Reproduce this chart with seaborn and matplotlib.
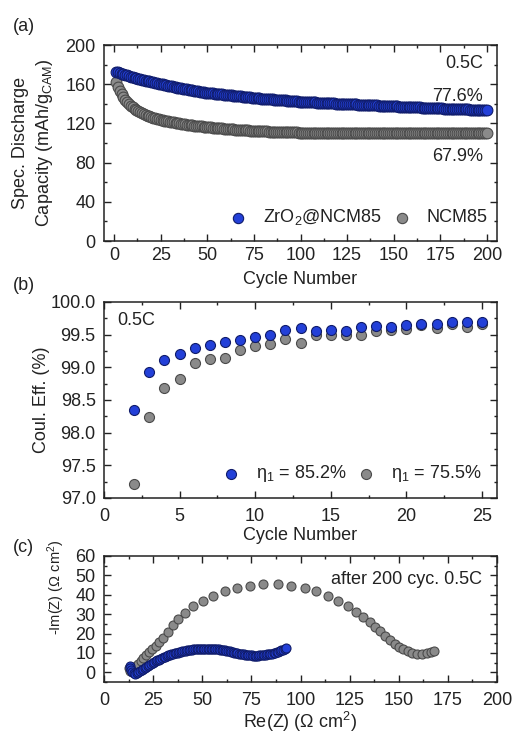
import matplotlib
matplotlib.use("Agg")
import matplotlib.pyplot as plt
import seaborn as sns
from matplotlib.ticker import MultipleLocator, FormatStrFormatter

# ---------------------------------------------------------------- data
coated_label = "ZrO$_2$@NCM85"
bare_label = "NCM85"

# (a) specific discharge capacity per cycle (mAh/g_CAM), cycles 1..200
capacity_coated = [
    172.8, 172.1, 171.4, 170.8, 170.1, 169.5, 168.9, 168.2, 167.6, 167.0,
    166.5, 166.0, 165.6, 165.1, 164.6, 164.1, 163.7, 163.2, 162.8, 162.3,
    161.9, 161.5, 161.0, 160.6, 160.2, 159.8, 159.4, 159.0, 158.6, 158.2,
    157.8, 157.4, 157.0, 156.6, 156.2, 155.8, 155.5, 155.1, 154.7, 154.4,
    154.0, 153.6, 153.3, 152.9, 152.6, 152.2, 152.0, 151.7, 151.5, 151.3,
    151.0, 150.8, 150.6, 150.4, 150.1, 149.9, 149.7, 149.5, 149.3, 149.1,
    148.9, 148.7, 148.5, 148.3, 148.1, 147.9, 147.7, 147.5, 147.3, 147.1,
    146.9, 146.7, 146.5, 146.3, 146.1, 145.9, 145.8, 145.6, 145.4, 145.3,
    145.1, 144.9, 144.8, 144.6, 144.4, 144.3, 144.1, 144.0, 143.8, 143.7,
    143.5, 143.4, 143.2, 143.1, 142.9, 142.8, 142.6, 142.5, 142.3, 142.2,
    142.1, 142.0, 141.9, 141.8, 141.7, 141.6, 141.5, 141.4, 141.3, 141.2,
    141.1, 141.0, 140.9, 140.8, 140.7, 140.6, 140.5, 140.4, 140.3, 140.2,
    140.1, 140.0, 139.9, 139.8, 139.7, 139.6, 139.5, 139.4, 139.4, 139.3,
    139.2, 139.1, 139.0, 138.9, 138.8, 138.7, 138.6, 138.5, 138.4, 138.3,
    138.3, 138.2, 138.1, 138.0, 137.9, 137.8, 137.7, 137.7, 137.6, 137.5,
    137.4, 137.3, 137.2, 137.1, 137.1, 137.0, 136.9, 136.8, 136.7, 136.6,
    136.5, 136.5, 136.4, 136.3, 136.2, 136.1, 136.0, 136.0, 135.9, 135.8,
    135.7, 135.6, 135.5, 135.5, 135.4, 135.3, 135.2, 135.1, 135.0, 135.0,
    134.9, 134.8, 134.7, 134.6, 134.6, 134.5, 134.4, 134.3, 134.2, 134.2,
    134.1, 134.0, 133.9, 133.8, 133.8, 133.7, 133.6, 133.5, 133.4, 133.3,
]
capacity_bare = [
    162.5, 157.0, 153.0, 149.6, 146.6, 144.0, 141.8, 139.8, 138.0, 136.5,
    135.1, 133.8, 132.6, 131.5, 130.5, 129.6, 128.8, 128.0, 127.3, 126.6,
    126.0, 125.4, 124.8, 124.3, 123.8, 123.3, 122.9, 122.5, 122.1, 121.7,
    121.3, 121.0, 120.6, 120.3, 120.0, 119.7, 119.4, 119.1, 118.8, 118.6,
    118.3, 118.1, 117.8, 117.6, 117.3, 117.1, 116.9, 116.7, 116.5, 116.3,
    116.1, 115.9, 115.7, 115.5, 115.3, 115.1, 115.0, 114.8, 114.6, 114.5,
    114.3, 114.2, 114.0, 113.9, 113.7, 113.6, 113.5, 113.3, 113.2, 113.1,
    113.0, 112.8, 112.7, 112.6, 112.5, 112.4, 112.3, 112.2, 112.1, 112.0,
    111.9, 111.8, 111.7, 111.7, 111.6, 111.5, 111.4, 111.4, 111.3, 111.2,
    111.2, 111.1, 111.0, 111.0, 110.9, 110.9, 110.8, 110.8, 110.7, 110.7,
    110.6, 110.7, 110.6, 110.5, 110.6, 110.5, 110.5, 110.4, 110.5, 110.4,
    110.4, 110.3, 110.4, 110.3, 110.3, 110.4, 110.2, 110.3, 110.2, 110.3,
    110.2, 110.2, 110.1, 110.2, 110.1, 110.2, 110.1, 110.1, 110.0, 110.1,
    110.0, 110.1, 110.0, 110.0, 110.1, 109.9, 110.0, 109.9, 110.0, 109.9,
    110.0, 109.9, 109.9, 110.0, 109.9, 109.8, 109.9, 109.9, 109.8, 109.9,
    109.8, 109.9, 109.8, 109.8, 109.9, 109.8, 109.8, 109.7, 109.8, 109.8,
    109.8, 109.7, 109.8, 109.8, 109.7, 109.8, 109.7, 109.8, 109.7, 109.8,
    109.8, 109.7, 109.8, 109.8, 109.9, 109.8, 109.8, 109.9, 109.8, 109.9,
    109.9, 109.8, 109.9, 110.0, 109.9, 110.0, 109.9, 110.0, 110.0, 110.1,
    110.0, 110.1, 110.0, 110.1, 110.1, 110.0, 110.2, 110.1, 110.2, 110.3,
]
capacity_retention = ["77.6%", "67.9%"]

# (b) coulombic efficiency (%), cycles 2..25
ce_cycles = list(range(2, 26))
ce_coated = [98.35, 98.93, 99.11, 99.21, 99.29, 99.34, 99.39, 99.42, 99.46,
             99.49, 99.57, 99.60, 99.56, 99.57, 99.56, 99.61, 99.63, 99.62,
             99.65, 99.66, 99.66, 99.69, 99.69, 99.69]
ce_bare = [97.22, 98.24, 98.68, 98.82, 99.06, 99.13, 99.15, 99.27, 99.33,
           99.36, 99.44, 99.38, 99.50, 99.50, 99.49, 99.49, 99.55, 99.57,
           99.58, 99.65, 99.60, 99.67, 99.62, 99.66]
first_cycle_eff = ["85.2%", "75.5%"]

# (c) Nyquist plot after 200 cycles, Re(Z) / -Im(Z) in Ohm cm^2
eis_re_coated = [
    13.0, 13.3, 13.8, 14.4, 15.1, 15.9, 16.7, 17.5, 18.3, 19.1,
    19.9, 20.7, 21.5, 22.3, 23.1, 23.9, 24.7, 25.5, 26.3, 27.1,
    27.9, 28.7, 29.5, 30.3, 31.1, 31.9, 32.7, 33.5, 34.3, 35.1,
    35.9, 36.7, 37.5, 38.3, 39.1, 39.9, 40.7, 41.5, 42.3, 43.1,
    43.9, 44.7, 45.5, 46.3, 47.1, 47.9, 48.7, 49.5, 50.3, 51.1,
    51.9, 52.7, 53.5, 54.3, 55.1, 55.9, 56.7, 57.5, 58.3, 59.1,
    59.9, 60.7, 61.5, 62.3, 63.1, 63.9, 64.7, 65.5, 66.3, 67.1,
    67.9, 68.7, 69.5, 70.3, 71.1, 71.9, 72.7, 73.5, 74.3, 75.1,
    75.9, 76.7, 77.5, 78.3, 79.1, 79.9, 80.7, 81.5, 82.3, 83.1,
    83.9, 84.7, 85.5, 86.3, 87.1, 87.9, 88.7, 89.5, 90.3, 91.1,
    91.9, 92.7,
]
eis_im_coated = [
    3.5, 2.2, 1.0, 0.0, -0.6, -0.7, -0.4, 0.1, 0.6, 1.2,
    1.7, 2.3, 2.8, 3.4, 3.9, 4.4, 4.9, 5.3, 5.8, 6.2,
    6.6, 7.0, 7.3, 7.7, 8.0, 8.4, 8.7, 9.0, 9.3, 9.5,
    9.8, 10.0, 10.2, 10.4, 10.6, 10.8, 11.0, 11.1, 11.3, 11.4,
    11.5, 11.7, 11.8, 11.9, 11.9, 12.0, 12.1, 12.1, 12.2, 12.2,
    12.2, 12.2, 12.2, 12.1, 12.1, 12.0, 12.0, 11.9, 11.8, 11.7,
    11.6, 11.4, 11.3, 11.1, 11.0, 10.8, 10.6, 10.4, 10.2, 10.0,
    9.8, 9.6, 9.5, 9.3, 9.2, 9.0, 8.9, 8.8, 8.7, 8.7,
    8.6, 8.6, 8.6, 8.6, 8.7, 8.7, 8.8, 8.9, 9.0, 9.2,
    9.3, 9.5, 9.7, 9.9, 10.2, 10.4, 10.7, 11.0, 11.3, 11.7,
    12.0, 12.4,
]
eis_re_bare = [12.5, 13.2, 14.0, 15.0, 16.1, 17.3, 18.6, 20.0, 21.5, 23.0,
               24.6, 26.3, 28.1, 30.0, 32.5, 35.1, 37.8, 41.1, 45.3, 50.6,
               55.6, 61.5, 67.5, 74.2, 81.0, 88.4, 95.3, 102.1, 108.0, 113.9,
               119.3, 124.1, 128.3, 132.0, 135.2, 138.0, 140.6, 143.2, 145.6, 147.9,
               150.1, 152.3, 154.6, 156.9, 159.3, 161.8, 164.3, 166.5, 167.8]
eis_im_bare = [2.0, 0.5, 1.0, 2.0, 3.2, 4.5, 5.9, 7.4, 8.9, 10.5,
               12.1, 13.8, 15.6, 17.6, 21.0, 24.3, 27.5, 30.6, 34.1, 36.9,
               39.4, 41.9, 43.6, 44.6, 45.3, 45.3, 44.6, 43.6, 41.9, 39.4,
               36.8, 34.2, 31.1, 28.5, 25.9, 23.3, 21.1, 18.7, 16.6, 14.8,
               13.2, 11.9, 10.8, 10.0, 9.5, 9.5, 10.0, 10.6, 11.2]

# ---------------------------------------------------------------- style
sns.set_style("ticks")
FONT = ["Liberation Sans", "DejaVu Sans"]
plt.rcParams.update({
    "font.family": FONT,
    "font.size": 13,
    "mathtext.fontset": "custom",
    "mathtext.rm": "Liberation Sans",
    "mathtext.it": "Liberation Sans:italic",
    "mathtext.default": "regular",
    "text.color": "#222222",
    "axes.labelcolor": "#222222",
    "xtick.color": "#222222",
    "ytick.color": "#222222",
    "axes.edgecolor": "#222222",
    "axes.linewidth": 1.1,
})

BLUE, BLUE_EDGE = "#2340d8", "#101c6a"
GRAY, GRAY_EDGE = "#8a8a8a", "#4a4a4a"

W, H = 513, 735
fig = plt.figure(figsize=(W / 100, H / 100), dpi=100)


def axes_px(left, top, right, bottom):
    return fig.add_axes([left / W, 1 - bottom / H, (right - left) / W, (bottom - top) / H])


def style_axes(ax, xmaj, ymaj, xpad=4, ypad=6):
    ax.xaxis.set_major_locator(MultipleLocator(xmaj))
    ax.xaxis.set_minor_locator(MultipleLocator(xmaj / 2))
    ax.yaxis.set_major_locator(MultipleLocator(ymaj))
    ax.yaxis.set_minor_locator(MultipleLocator(ymaj / 2))
    ax.tick_params(which="both", direction="in", top=True, right=True, width=1.0)
    ax.tick_params(which="major", length=5)
    ax.tick_params(which="minor", length=2.5)
    ax.tick_params(axis="x", which="major", pad=xpad, labelsize=13)
    ax.tick_params(axis="y", which="major", pad=ypad, labelsize=13)


def draw_pair(ax, xb, yb, xc, yc, size):
    sns.scatterplot(x=xb, y=yb, color=GRAY, edgecolor=GRAY_EDGE, linewidth=0.8,
                    s=size, label=bare_label, ax=ax, zorder=3, legend=False)
    sns.scatterplot(x=xc, y=yc, color=BLUE, edgecolor=BLUE_EDGE, linewidth=0.8,
                    s=size, label=coated_label, ax=ax, zorder=4, legend=False)
    handles = ax.collections[-2:]
    return handles[1], handles[0]


legend_kw = dict(ncol=2, frameon=False, loc="lower right", borderaxespad=0,
                 borderpad=0, handlelength=1.0, handletextpad=0.85,
                 columnspacing=0.6, scatterpoints=1)

# ---------------------------------------------------------------- (a)
ax_a = axes_px(104, 45, 497, 241)
cycles = list(range(1, len(capacity_coated) + 1))
h_c, h_b = draw_pair(ax_a, cycles, capacity_bare, cycles, capacity_coated, 60)
ax_a.set_xlim(-5.4, 205.4)
ax_a.set_ylim(0, 200)
style_axes(ax_a, 25, 40, xpad=4)
ax_a.set_xlabel("Cycle Number")
ax_a.set_ylabel("Spec. Discharge\nCapacity (mAh/g$_{CAM}$)", linespacing=1.3)
ax_a.yaxis.set_label_coords(-0.125, 0.5)
ax_a.xaxis.set_label_coords(0.5, -0.155)
ax_a.text(198, 181.6, "0.5C", ha="right", va="center")
ax_a.text(198, 147.2, capacity_retention[0], ha="right", va="center")
ax_a.text(198, 86.0, capacity_retention[1], ha="right", va="center")
leg_a = ax_a.legend([h_c, h_b], [coated_label, bare_label],
                    bbox_to_anchor=(0.975, 0.07), **legend_kw)
for h in leg_a.legend_handles:
    h.set_sizes([55])

# ---------------------------------------------------------------- (b)
ax_b = axes_px(104, 302, 497, 498)
h_c, h_b = draw_pair(ax_b, ce_cycles, ce_bare, ce_cycles, ce_coated, 52)
ax_b.set_xlim(0, 26)
ax_b.set_ylim(97.0, 100.0)
style_axes(ax_b, 5, 0.5, xpad=7)
ax_b.yaxis.set_major_formatter(FormatStrFormatter("%.1f"))
ax_b.set_xlabel("Cycle Number")
ax_b.set_ylabel("Coul. Eff. (%)")
ax_b.yaxis.set_label_coords(-0.137, 0.5)
ax_b.xaxis.set_label_coords(0.5, -0.15)
ax_b.text(0.86, 99.71, "0.5C", ha="left", va="center")
ax_b.legend([h_c, h_b],
            [f"η$_1$ = {first_cycle_eff[0]}", f"η$_1$ = {first_cycle_eff[1]}"],
            bbox_to_anchor=(0.96, 0.07), **legend_kw)

# ---------------------------------------------------------------- (c)
ax_c = axes_px(104, 556, 497, 682)
draw_pair(ax_c, eis_re_bare, eis_im_bare, eis_re_coated, eis_im_coated, 42)
ax_c.set_xlim(0, 200)
ax_c.set_ylim(-5, 60)
style_axes(ax_c, 25, 10, xpad=7)
ax_c.set_xlabel("Re(Z) (Ω cm$^2$)")
ax_c.set_ylabel("-Im(Z) (Ω cm$^2$)", fontsize=10.5)
ax_c.yaxis.set_label_coords(-0.095, 0.75)
ax_c.xaxis.set_label_coords(0.5, -0.22)
ax_c.text(192.5, 48.1, "after 200 cyc. 0.5C", ha="right", va="center")

# ---------------------------------------------------------------- panel tags
for tag, ypx in (("(a)", 26.5), ("(b)", 285), ("(c)", 547)):
    fig.text(13 / W, 1 - ypx / H, tag, ha="left", va="center", fontsize=13)

fig.savefig("out.png", dpi=100)
